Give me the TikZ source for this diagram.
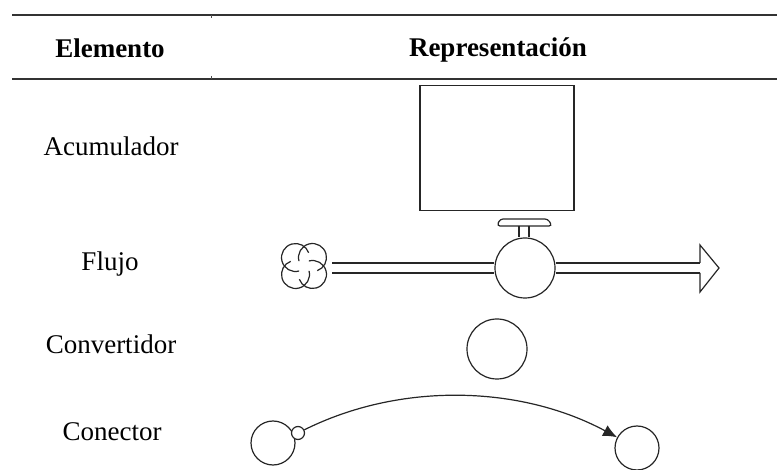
\documentclass[tikz,border=0pt]{standalone}
\usepackage{fontspec}
\setmainfont{Liberation Serif}
\usetikzlibrary{arrows.meta,calc}
\tikzset{
  lbl/.style={font=\fontsize{13.5}{16}\selectfont, inner sep=0pt, anchor=base},
  hdr/.style={font=\fontsize{13.5}{16}\selectfont\bfseries, inner sep=0pt, anchor=base},
  rule/.style={line width=1pt, draw=black!80},
  shp/.style={draw=black!85, line width=0.6pt},
  ring/.style={shp, circle, inner sep=0pt, fill=white},
}
\begin{document}
\begin{tikzpicture}[x=0.5pt,y=-0.5pt]
\useasboundingbox (0,0) rectangle (777,470);
% rules
\coordinate (t1) at (12,15); \coordinate (t2) at (777,15);
\coordinate (b1) at (12,79); \coordinate (b2) at (777,79);
\draw[rule] (t1) -- (t2);
\draw[rule] (b1) -- (b2);
\coordinate (k1) at (211,15); \coordinate (k2) at (211,18);
\coordinate (k3) at (211,76); \coordinate (k4) at (211,79);
\draw[line width=0.5pt, black!70] (k1) -- (k2) (k3) -- (k4);
% headers
\node[hdr] (h1) at (110,58) {Elemento};
\node[hdr] (h2) at (498,57) {Representación};
% labels
\node[lbl] (l1) at (111,156) {Acumulador};
\node[lbl] (l2) at (110,271) {Flujo};
\node[lbl] (l3) at (111,354) {Convertidor};
\node[lbl] (l4) at (112,440) {Conector};
% stock
\node[shp, rectangle, minimum width=77pt, minimum height=62.5pt, inner sep=0pt] (stock) at (497,148) {};
% flow
\node[circle, minimum size=26pt, inner sep=0pt] (cloud) at (304,266) {};
\foreach \a in {45,135,225,315}{
  \draw[shp] ($(304,266)+(\a:12)$) ++(\a-150:14) arc[start angle=\a-150, end angle=\a+115, radius=14];
}
\node[ring, minimum size=30pt] (valve) at (525,268) {};
\coordinate (abase) at (700,268);
\coordinate (pstart) at (332,268);
\draw[shp, double distance=4.4pt, double=white] (pstart) -- (pstart -| valve.west);
\draw[shp, double distance=4.4pt, double=white] (valve.east) -- (abase);
\draw[shp, fill=white, line join=miter] (700,263) -- (700,245) -- (719,268) -- (700,292) -- (700,273);
% valve handle
\coordinate (vh1) at (519,226); \coordinate (vh2) at (529,226);
\draw[shp] (vh1) -- (vh1 |- valve.north) (vh2) -- (vh2 |- valve.north);
\draw[shp, rounded corners=1.5pt] (497,226) -- (500,219) -- (548,219) -- (552,226) -- cycle;
% converter
\node[ring, minimum size=30pt] (conv) at (497,349) {};
% connector
\node[ring, minimum size=22pt] (ca) at (273,443) {};
\node[ring, minimum size=22pt] (cb) at (637,448) {};
\node[ring, minimum size=6.5pt] (cs) at (298,433) {};
\draw[shp, -{Latex[length=7pt,width=6pt]}] (cs) .. controls (400,382) and (520,385) .. (cb);
\end{tikzpicture}
\end{document}
